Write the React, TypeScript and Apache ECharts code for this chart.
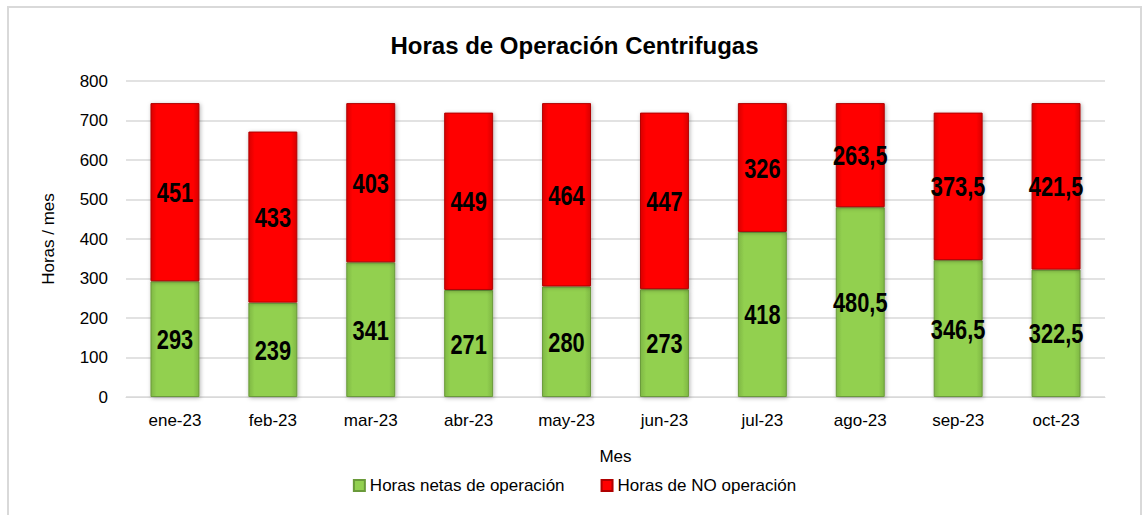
import React, { useEffect, useRef } from "react";
import * as echarts from "echarts";

const months = ["ene-23", "feb-23", "mar-23", "abr-23", "may-23", "jun-23", "jul-23", "ago-23", "sep-23", "oct-23"];
const netHours = [293, 239, 341, 271, 280, 273, 418, 480.5, 346.5, 322.5];
const noOpHours = [451, 433, 403, 449, 464, 447, 326, 263.5, 373.5, 421.5];
const yTicks = { min: 0, max: 800, interval: 100 };

const fmt = (v: number) => String(v).replace(".", ",");

export default function App() {
  const ref = useRef<HTMLDivElement>(null);
  useEffect(() => {
    const chart = echarts.init(ref.current!, null, { renderer: "svg" });
    const font = "Liberation Sans, Arial, sans-serif";
    const greenGrad = new echarts.graphic.LinearGradient(0, 0, 1, 0, [
      { offset: 0, color: "#7fb844" },
      { offset: 0.12, color: "#92d050" },
      { offset: 0.88, color: "#92d050" },
      { offset: 1, color: "#7fb844" },
    ]);
    const redGrad = new echarts.graphic.LinearGradient(0, 0, 1, 0, [
      { offset: 0, color: "#d90000" },
      { offset: 0.12, color: "#ff0000" },
      { offset: 0.88, color: "#ff0000" },
      { offset: 1, color: "#d90000" },
    ]);
    const labelData = months.map((_, i) => [i, netHours[i], noOpHours[i]]);
    const mkText = (x: number, y: number, v: number) => ({
      type: "text",
      x,
      y,
      scaleX: 0.78,
      style: {
        text: fmt(v),
        font: "bold 28px Liberation Sans, Arial, sans-serif",
        fill: "#000",
        align: "center",
        verticalAlign: "middle",
      },
    });
    chart.setOption({
      animation: false,
      title: {
        text: "Horas de Operación Centrifugas",
        left: "center",
        top: 20,
        textStyle: { fontSize: 24, fontWeight: "bold", color: "#000", fontFamily: font },
      },
      legend: {
        top: 464,
        left: "center",
        itemWidth: 11,
        itemHeight: 11,
        itemGap: 36,
        textStyle: { fontSize: 17, color: "#000", fontFamily: font },
        data: [
          { name: "Horas netas de operación", icon: "rect" },
          { name: "Horas de NO operación", icon: "rect" },
        ],
      },
      grid: { left: 117, right: 35, top: 73, bottom: 118 },
      xAxis: {
        type: "category",
        data: months,
        name: "Mes",
        nameLocation: "middle",
        nameGap: 51,
        nameTextStyle: { fontSize: 17, color: "#000", fontFamily: font },
        axisLine: { show: true, lineStyle: { color: "#d9d9d9" } },
        axisTick: { show: false },
        axisLabel: { fontSize: 17, color: "#000", margin: 15, fontFamily: font },
      },
      yAxis: {
        type: "value",
        min: yTicks.min,
        max: yTicks.max,
        interval: yTicks.interval,
        name: "Horas / mes",
        nameLocation: "middle",
        nameGap: 69,
        nameTextStyle: { fontSize: 17, color: "#000", fontFamily: font },
        axisLine: { show: false },
        axisTick: { show: false },
        axisLabel: { fontSize: 17, color: "#000", margin: 18, fontFamily: font },
        splitLine: { lineStyle: { color: "#d9d9d9", width: 1.5 } },
      },
      series: [
        {
          name: "Horas netas de operación",
          type: "bar",
          stack: "total",
          barWidth: "50%",
          data: netHours,
          itemStyle: { color: greenGrad, borderColor: "#6a9a3a", borderWidth: 1, shadowColor: "rgba(0,0,0,0.3)", shadowBlur: 4, shadowOffsetX: 1, shadowOffsetY: 1 },
        },
        {
          name: "Horas de NO operación",
          type: "bar",
          stack: "total",
          barWidth: "50%",
          data: noOpHours,
          itemStyle: { color: redGrad, borderColor: "#b00000", borderWidth: 1, shadowColor: "rgba(0,0,0,0.3)", shadowBlur: 4, shadowOffsetX: 1, shadowOffsetY: 1 },
        },
        {
          type: "custom",
          data: labelData,
          z: 10,
          silent: true,
          renderItem: (_params: any, api: any) => {
            const i = api.value(0);
            const a = api.value(1);
            const b = api.value(2);
            const p1 = api.coord([i, a / 2]);
            const p2 = api.coord([i, a + b / 2]);
            return {
              type: "group",
              children: [mkText(p1[0], p1[1], a), mkText(p2[0], p2[1], b)],
            };
          },
        },
      ],
    });
    return () => chart.dispose();
  }, []);
  return (
    <div
      ref={ref}
      style={{
        position: "absolute",
        left: 7,
        top: 6,
        width: 1131,
        height: 507,
        borderLeft: "2px solid #d9d9d9",
        borderTop: "2px solid #d9d9d9",
        borderRight: "2px solid #d9d9d9",
      }}
    />
  );
}
